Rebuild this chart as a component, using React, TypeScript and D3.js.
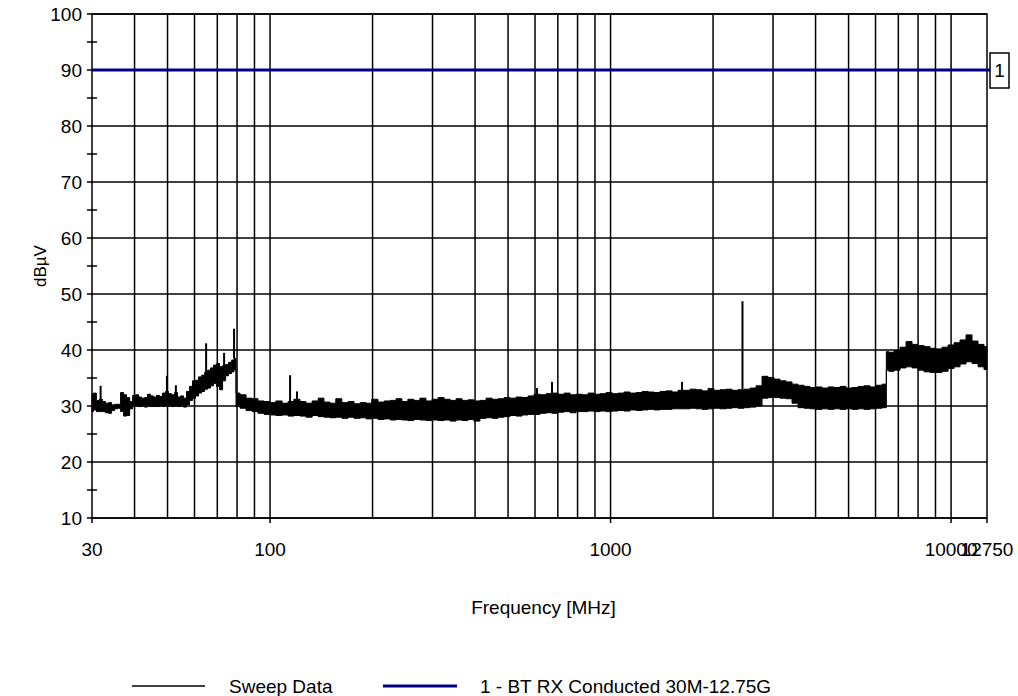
import React from 'react';
import * as d3 from 'd3';

// ---- Data ----
const sweepFreq = [
  30.0, 30.6, 31.2, 31.9, 32.5, 33.2, 33.9, 34.6, 35.3, 36.0, 36.8, 37.5, 38.3, 39.1, 39.9, 40.7,
  41.5, 42.4, 43.2, 44.1, 45.0, 45.9, 46.9, 47.8, 48.8, 49.8, 50.8, 51.9, 53.0, 54.0, 55.1, 56.3,
  57.4, 58.6, 59.8, 61.0, 62.3, 63.6, 64.9, 66.2, 67.5, 68.9, 70.3, 71.8, 73.3, 74.8, 76.3, 77.9, 78.9,
  80.0, 83.3, 86.8, 90.3, 94.1, 98.0, 102, 106, 111, 115, 120, 125, 130, 136, 141, 147, 153, 159, 166,
  173, 180, 188, 195, 203, 212, 221, 230, 239, 249, 259, 270, 281, 293, 305, 318, 331, 345, 359, 374,
  389, 405, 422, 440, 458, 477, 497, 517, 539, 561, 584, 608, 634, 660, 687, 716, 745, 776, 808, 842,
  876, 913, 950, 990, 1031, 1073, 1118, 1164, 1212, 1263, 1315, 1369, 1426, 1485, 1546, 1610, 1677,
  1746, 1819, 1894, 1972, 2054, 2139, 2228, 2320, 2416, 2516, 2620, 2729, 2842, 2960, 3082, 3210,
  3343, 3481, 3626, 3776, 3932, 4095, 4265, 4441, 4625, 4817, 5016, 5224, 5440, 5665, 5900, 6144,
  6398, 6450, 6460, 6663, 6940, 7227, 7526, 7837, 8162, 8501, 8852, 9219, 9600, 10001, 10414, 10843,
  11292, 11757, 12246, 12750,
];
const sweepHigh = [
  32.1, 32.3, 31.0, 31.2, 30.8, 30.5, 30.6, 30.2, 30.3, 30.3, 32.4, 32.0, 31.5, 30.8, 31.9, 32.0,
  31.6, 31.4, 31.5, 32.1, 31.8, 31.6, 31.9, 31.7, 32.3, 32.6, 32.2, 32.0, 32.4, 31.6, 31.8, 31.4,
  32.6, 33.5, 34.5, 34.6, 35.2, 35.5, 36.0, 36.4, 36.8, 37.3, 37.6, 37.0, 37.2, 37.4, 37.8, 38.2, 38.5,
  32.3, 32.0, 31.4, 31.3, 30.9, 30.8, 30.6, 30.9, 30.5, 30.8, 31.2, 30.8, 30.5, 30.9, 31.4, 30.7, 30.5, 31.3, 30.6,
  30.8, 30.4, 30.6, 30.5, 31.2, 30.7, 30.9, 31.0, 31.3, 30.8, 31.2, 31.0, 31.4, 30.9, 31.2, 31.5, 31.2, 31.0, 31.3, 31.0,
  31.1, 30.9, 31.0, 31.4, 31.2, 31.3, 31.5, 31.4, 31.6, 31.5, 31.8, 32.1, 32.0, 32.2, 32.3, 32.1, 32.3, 32.0, 32.1, 32.0,
  32.3, 32.1, 32.2, 32.4, 32.2, 32.3, 32.5, 32.3, 32.4, 32.6, 32.5, 32.4, 32.6, 32.7, 32.5, 32.8, 32.8,
  33.0, 32.9, 32.7, 33.1, 32.8, 32.9, 33.0, 32.8, 32.9, 33.0, 33.2, 33.6, 35.3, 35.1, 34.8, 34.5,
  34.3, 33.9, 33.7, 33.5, 33.3, 33.4, 33.2, 33.4, 33.3, 33.5, 33.2, 33.3, 33.5, 33.6, 33.4, 33.7,
  33.9, 33.9, 39.7, 39.6, 39.9, 40.5, 41.5, 41.0, 40.8, 40.6, 40.3, 40.2, 40.5, 40.9, 41.3, 41.8,
  42.7, 41.6, 41.0, 40.6,
];
const sweepLow = [
  29.0, 29.3, 29.0, 29.0, 29.0, 28.8, 28.7, 29.2, 29.5, 29.6, 29.0, 28.2, 28.3, 29.5, 29.9, 30.0,
  29.9, 30.0, 29.8, 30.0, 29.9, 29.9, 29.9, 30.0, 29.9, 30.0, 30.0, 29.9, 30.0, 29.9, 30.0, 29.8,
  30.2, 31.0, 31.4, 31.8, 32.3, 32.6, 33.0, 33.2, 33.6, 34.0, 33.5, 32.9, 34.5, 35.4, 35.8, 36.1, 36.5,
  29.9, 29.6, 29.2, 29.0, 28.7, 28.5, 28.4, 28.3, 28.4, 28.2, 28.3, 28.2, 28.0, 28.3, 28.1, 28.0, 27.9, 28.0, 27.8,
  28.0, 27.8, 27.9, 27.7, 27.8, 27.6, 27.7, 27.5, 27.6, 27.5, 27.4, 27.6, 27.5, 27.4, 27.5, 27.4, 27.5, 27.3, 27.5, 27.4,
  27.6, 27.3, 27.8, 27.9, 27.8, 28.0, 28.1, 28.3, 28.2, 28.4, 28.5, 28.5, 28.7, 28.8, 28.7, 28.9, 29.0, 28.8, 29.0, 29.0,
  29.1, 29.0, 29.1, 29.0, 29.1, 29.2, 29.1, 29.3, 29.2, 29.3, 29.4, 29.3, 29.4, 29.4, 29.5, 29.5, 29.5,
  29.6, 29.5, 29.4, 29.5, 29.6, 29.5, 29.6, 29.7, 29.6, 29.7, 29.8, 30.0, 31.4, 31.5, 31.5, 31.4,
  31.3, 30.5, 29.7, 29.6, 29.5, 29.4, 29.5, 29.4, 29.5, 29.4, 29.5, 29.4, 29.5, 29.4, 29.5, 29.6,
  29.7, 29.7, 36.4, 36.2, 36.4, 36.8, 37.0, 36.8, 36.4, 36.1, 36.0, 36.0, 36.2, 36.7, 37.0, 37.5,
  37.9, 37.6, 37.0, 36.5,
];

// narrow peaks in the sweep
const spikeFreq = [31.8, 49.8, 52.9, 64.9, 73.3, 78.4, 114.5, 120, 608, 673, 1621, 2440];
const spikePeak = [33.6, 35.4, 33.7, 41.2, 39.5, 43.8, 35.5, 32.6, 33.2, 34.3, 34.3, 48.7];

const limitLevel = 90;
const limitName = '1 - BT RX Conducted 30M-12.75G';
const sweepName = 'Sweep Data';

const xGridValues = [40, 50, 60, 70, 80, 90, 100, 200, 300, 400, 500, 600, 700, 800, 900, 1000,
  2000, 3000, 4000, 5000, 6000, 7000, 8000, 9000, 10000];
const xTickLabels = [30, 100, 1000, 10000, 12750];
const yTicks = [10, 20, 30, 40, 50, 60, 70, 80, 90, 100];
const yMinorTicks = [15, 25, 35, 45, 55, 65, 75, 85, 95];

const W = 1018;
const H = 696;
const L = 92, R = 987, T = 14, B = 518;
const FONT = '"Liberation Sans", Arial, sans-serif';

export default function App() {
  const x = d3.scaleLog().domain([30, 12750]).range([L, R]);
  const y = d3.scaleLinear().domain([10, 100]).range([B, T]);
  const idx = d3.range(sweepFreq.length);
  const area = d3.area<number>()
    .x(i => x(sweepFreq[i]))
    .y0(i => y(sweepLow[i]))
    .y1(i => y(sweepHigh[i]))
    .curve(d3.curveStep);
  const bis = d3.bisector((d: number) => d).left;
  const baseAt = (f: number) => {
    const i = Math.min(sweepFreq.length - 1, bis(sweepFreq, f));
    return sweepHigh[i];
  };
  const yLimit = y(limitLevel);

  return (
    <div style={{ position: 'fixed', left: 0, top: 0 }}>
      <svg width={W} height={H} style={{ display: 'block', background: '#fff' }} fontFamily={FONT}>
        <rect x={0} y={0} width={W} height={H} fill="#fff" />
        {/* horizontal grid */}
        {yTicks.map(v => (
          <line key={'h' + v} x1={L - 5} x2={R} y1={y(v)} y2={y(v)} stroke="#000" strokeWidth={1.5} />
        ))}
        {yMinorTicks.map(v => (
          <line key={'m' + v} x1={L - 5} x2={L + 5} y1={y(v)} y2={y(v)} stroke="#000" strokeWidth={1.5} />
        ))}
        {/* vertical grid */}
        {xGridValues.map(v => (
          <line key={'v' + v} x1={x(v)} x2={x(v)} y1={T} y2={B} stroke="#000" strokeWidth={1.5} />
        ))}
        {xTickLabels.map(v => (
          <line key={'t' + v} x1={x(v)} x2={x(v)} y1={B} y2={B + 5} stroke="#000" strokeWidth={1.5} />
        ))}
        {/* frame */}
        <rect x={L} y={T} width={R - L} height={B - T} fill="none" stroke="#000" strokeWidth={1.5} />

        {/* sweep */}
        <path d={area(idx) || ''} fill="#000" stroke="#000" strokeWidth={1} />
        {spikeFreq.map((f, i) => (
          <line key={'s' + i} x1={x(f)} x2={x(f)} y1={y(baseAt(f))} y2={y(spikePeak[i])} stroke="#000" strokeWidth={2} />
        ))}

        {/* limit line */}
        <line x1={L} x2={R + 3} y1={yLimit} y2={yLimit} stroke="#000080" strokeWidth={3} />
        <rect x={R + 3} y={yLimit - 17} width={19} height={35} fill="#fff" stroke="#000" strokeWidth={1.5} />
        <text x={R + 12.5} y={yLimit + 7} textAnchor="middle" fontSize={19} fill="#000">1</text>

        {/* y tick labels */}
        {yTicks.map(v => (
          <text key={'yl' + v} x={L - 10} y={y(v) + 7} textAnchor="end" fontSize={19} fill="#000">{v}</text>
        ))}
        {/* x tick labels */}
        {xTickLabels.map(v => (
          <text key={'xl' + v} x={x(v)} y={B + 38} textAnchor="middle" fontSize={19} fill="#000">{v}</text>
        ))}

        {/* axis titles */}
        <text x={(L + R) / 2 + 4} y={614} textAnchor="middle" fontSize={19} fill="#000">Frequency [MHz]</text>
        <text transform={`translate(46, ${(T + B) / 2}) rotate(-90)`} textAnchor="middle" fontSize={17} fill="#000">dBµV</text>

        {/* legend */}
        <line x1={132} x2={205} y1={686} y2={686} stroke="#000" strokeWidth={1.5} />
        <text x={229} y={693} fontSize={19} fill="#000">{sweepName}</text>
        <line x1={383} x2={457} y1={686} y2={686} stroke="#000080" strokeWidth={3} />
        <text x={480} y={693} fontSize={19} fill="#000">{limitName}</text>
      </svg>
    </div>
  );
}
